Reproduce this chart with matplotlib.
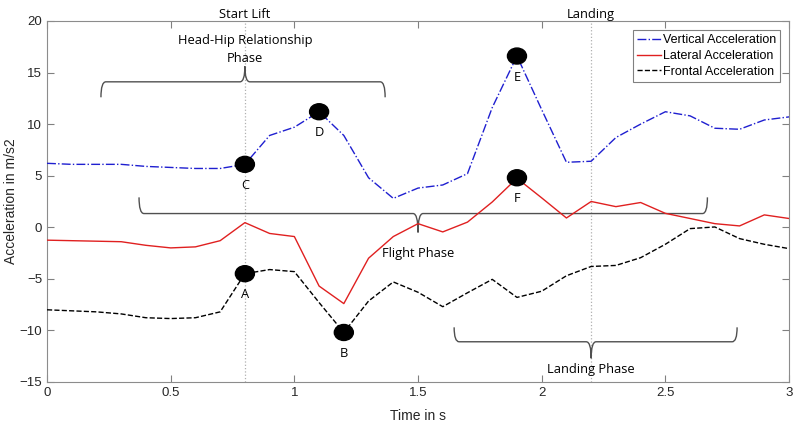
import matplotlib.pyplot as plt
from matplotlib.path import Path
from matplotlib.patches import PathPatch, Ellipse
import numpy as np

# Time axis (s) and accelerations (m/s2)
time = [0.0, 0.1, 0.2, 0.3, 0.4, 0.5, 0.6, 0.7, 0.8, 0.9, 1.0,
        1.1, 1.2, 1.3, 1.4, 1.5, 1.6, 1.7, 1.8, 1.9, 2.0,
        2.1, 2.2, 2.3, 2.4, 2.5, 2.6, 2.7, 2.8, 2.9, 3.0]
vertical = [6.2, 6.1, 6.1, 6.1, 5.9, 5.8, 5.7, 5.7, 6.1, 8.9, 9.7,
            11.2, 8.9, 4.8, 2.8, 3.8, 4.1, 5.2, 11.6, 16.6, 11.4,
            6.3, 6.4, 8.7, 10.0, 11.2, 10.8, 9.6, 9.5, 10.4, 10.7]
lateral = [-1.25, -1.3, -1.35, -1.4, -1.75, -2.0, -1.9, -1.3, 0.45, -0.6, -0.9,
           -5.7, -7.4, -3.0, -0.9, 0.35, -0.45, 0.5, 2.45, 4.75, 2.85,
           0.9, 2.5, 2.0, 2.4, 1.35, 0.85, 0.35, 0.13, 1.2, 0.85]
frontal = [-8.0, -8.1, -8.2, -8.4, -8.77, -8.85, -8.77, -8.2, -4.5, -4.1, -4.3,
           -7.3, -10.2, -7.15, -5.3, -6.3, -7.7, -6.35, -5.05, -6.8, -6.2,
           -4.7, -3.8, -3.7, -2.95, -1.65, -0.13, 0.03, -1.1, -1.65, -2.07]

# Labelled key points
point_labels = ["A", "B", "C", "D", "E", "F"]
point_x = [0.8, 1.2, 0.8, 1.1, 1.9, 1.9]
point_y = [-4.5, -10.2, 6.1, 11.2, 16.6, 4.8]

# Events (vertical reference lines)
event_labels = ["Start Lift", "Landing"]
event_x = [0.8, 2.2]

# Phase braces: label, x start, x end, x of tip, y of bar, y of ends, y of tip
phases = [
    ("Head-Hip Relationship\nPhase", 0.218, 1.367, 0.8, 14.1, 12.6, 15.6),
    ("Flight Phase", 0.372, 2.67, 1.5, 1.33, 2.9, -0.5),
    ("Landing Phase", 1.646, 2.79, 2.2, -11.1, -9.7, -12.7),
]

label_font = ["Open Sans", "DejaVu Sans"]
axis_font = ["Liberation Sans", "DejaVu Sans"]


def brace(ax, x0, x1, xm, y, y_end, y_tip, dx=0.02):
    verts = [(x0, y_end), (x0, y), (x0 + dx, y),
             (xm - dx, y), (xm, y), (xm, y_tip),
             (xm, y), (xm + dx, y),
             (x1 - dx, y), (x1, y), (x1, y_end)]
    codes = [Path.MOVETO, Path.CURVE3, Path.CURVE3,
             Path.LINETO, Path.CURVE3, Path.CURVE3,
             Path.CURVE3, Path.CURVE3,
             Path.LINETO, Path.CURVE3, Path.CURVE3]
    ax.add_patch(PathPatch(Path(verts, codes), fill=False,
                           edgecolor="#505050", linewidth=1.0, zorder=2))


fig = plt.figure(figsize=(7.93, 4.46), dpi=100)
ax = fig.add_axes([0.0593, 0.1435, 0.9357, 0.8095])

for xe in event_x:
    ax.axvline(xe, color="#b0b0b0", linestyle=":", linewidth=0.9, zorder=1)

ax.plot(time, vertical, color="#1f1fd0", linestyle="-.", linewidth=1.0,
        label="Vertical Acceleration", zorder=3)
ax.plot(time, lateral, color="#e02020", linestyle="-", linewidth=1.0,
        label="Lateral Acceleration", zorder=3)
ax.plot(time, frontal, color="black", linestyle="--", linewidth=1.0,
        label="Frontal Acceleration", zorder=3)

# elliptical markers, about 19 x 16 px
for lab, px, py in zip(point_labels, point_x, point_y):
    ax.add_patch(Ellipse((px, py), 0.077, 1.55, color="black", zorder=4))
    ax.text(px, py - 2.05, lab, ha="center", va="center", fontsize=9.3,
            family=label_font, zorder=5)

for lab, x0, x1, xm, y, y_end, y_tip in phases:
    brace(ax, x0, x1, xm, y, y_end, y_tip)

ax.text(0.8, 17.25, "Head-Hip Relationship\nPhase", ha="center", va="center",
        fontsize=9.3, family=label_font, linespacing=1.45)
ax.text(1.5, -2.5, "Flight Phase", ha="center", va="center",
        fontsize=9.3, family=label_font)
ax.text(2.2, -13.8, "Landing Phase", ha="center", va="center",
        fontsize=9.3, family=label_font)

for lab, xe in zip(event_labels, event_x):
    ax.text(xe, 20.6, lab, ha="center", va="center", fontsize=9.3,
            family=label_font)

ax.set_xlim(0, 3)
ax.set_ylim(-15, 20)
ax.set_xticks([0, 0.5, 1, 1.5, 2, 2.5, 3])
ax.set_xticklabels(["0", "0.5", "1", "1.5", "2", "2.5", "3"])
ax.set_yticks([-15, -10, -5, 0, 5, 10, 15, 20])
ax.tick_params(direction="in", top=True, right=True, length=5,
               color="#808080", labelsize=9.5, labelcolor="#262626")
for lbl in ax.get_xticklabels() + ax.get_yticklabels():
    lbl.set_family(axis_font)
for sp in ax.spines.values():
    sp.set_color("#8c8c8c")

ax.set_xlabel("Time in s", fontsize=10, family=axis_font, color="#262626",
              labelpad=7)
ax.set_ylabel("Acceleration in m/s2", fontsize=10, family=axis_font,
              color="#262626", labelpad=1)

leg = ax.legend(loc="upper right", frameon=True, fancybox=False,
                edgecolor="#606060", handlelength=1.9, handletextpad=0.15,
                borderpad=0.35, labelspacing=0.3, borderaxespad=0,
                prop={"family": axis_font, "size": 9.0},
                bbox_to_anchor=(0.988, 0.975))
leg.get_frame().set_linewidth(0.8)

plt.savefig("out.png", dpi=100)
plt.close()
